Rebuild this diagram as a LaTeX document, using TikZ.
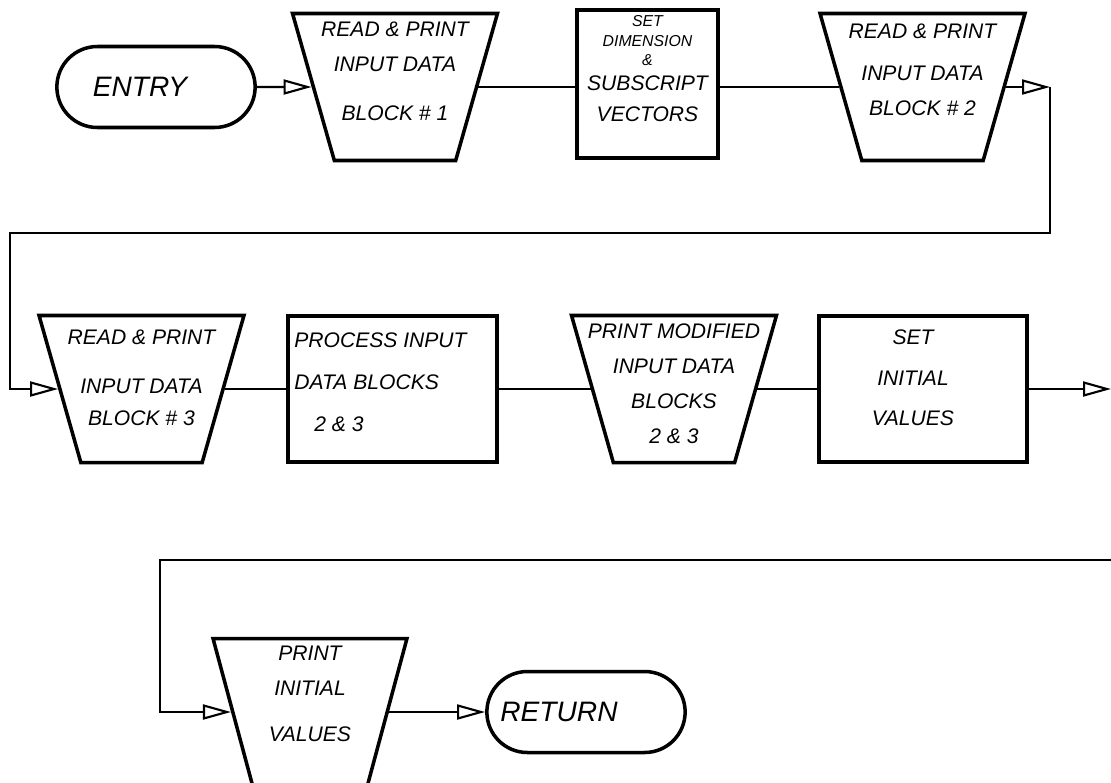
\documentclass[tikz,border=0pt]{standalone}
\usepackage{fontspec}
\newfontfamily\scrawl{Liberation Sans}
\usetikzlibrary{shapes.geometric,shapes.misc,arrows.meta}

\begin{document}
\begin{tikzpicture}[
    flow/.style={line width=1.2pt},
    arr/.style={flow, -{Triangle[open, length=0.56cm, width=0.3cm]}},
    term/.style={rounded rectangle, draw, line width=2pt, minimum width=4.2cm, minimum height=1.62cm,
        font=\scrawl\itshape\fontsize{16}{20}\selectfont},
    io/.style={trapezium, draw, line width=2pt, shape border rotate=180, trapezium angle=71,
        trapezium stretches=true, minimum width=4.1cm, minimum height=2.94cm},
    proc/.style={rectangle, draw, line width=2pt, minimum width=4.16cm, minimum height=2.92cm},
    hand/.style={font=\scrawl\itshape\fontsize{12}{20}\selectfont, align=center}
]
\useasboundingbox (0,0) rectangle (22.22,-15.64);

% first row
\node[term] (entry) at (3.12,-1.74) {ENTRY\rule{0.64cm}{0pt}};
\node[io] (rp1) at (7.9,-1.74) {};
\node[hand] (rp1-t) at ([yshift=0.32cm]rp1) {READ \& PRINT\\INPUT DATA\\[8pt]BLOCK \# 1};
\node[proc, minimum width=2.82cm, minimum height=2.96cm] (dim) at (12.95,-1.68) {};
\node[hand] (dim-t) at ([yshift=0.3cm]dim)
    {\small SET\\[-9pt]\small DIMENSION\\[-9pt]\small \&\\[-6pt]SUBSCRIPT\\[-2pt]VECTORS};
\node[io] (rp2) at (18.45,-1.74) {};
\node[hand] (rp2-t) at ([yshift=0.34cm]rp2) {READ \& PRINT\\[4pt]INPUT DATA\\BLOCK \# 2};

% second row
\node[io] (rp3) at (2.83,-7.78) {};
\node[hand] (rp3-t) at ([yshift=0.23cm]rp3) {READ \& PRINT\\[8pt]INPUT DATA\\[-2pt]BLOCK \# 3};
\node[proc, minimum width=4.18cm] (pr) at (7.85,-7.78) {};
\node[hand, align=left] (pr-t) at ([xshift=-0.24cm,yshift=0.14cm]pr)
    {PROCESS INPUT\\[4pt]DATA BLOCKS\\[4pt]\hspace{0.4cm}2 \& 3};
\node[io] (pm) at (13.48,-7.78) {};
\node[hand] (pm-t) at ([yshift=0.11cm]pm) {PRINT MODIFIED\\INPUT DATA\\BLOCKS\\2 \& 3};
\node[proc] (init) at (18.46,-7.78) {};
\node[hand] (init-t) at ([xshift=-0.2cm,yshift=0.22cm]init) {SET\\[3pt]INITIAL\\[3pt]VALUES};

% third row
\node[io, minimum width=3.88cm] (pi) at (6.2,-14.24) {};
\node[hand] (pi-t) at ([yshift=0.36cm]pi) {PRINT\\INITIAL\\[6pt]VALUES};
\node[term] (ret) at (11.72,-14.24) {RETURN\rule{1.08cm}{0pt}};

% corners and free ends
\coordinate (c1) at (21.0,-1.74);
\coordinate (c2) at (0.2,-4.66);
\coordinate (c3) at (22.22,-7.78);
\coordinate (c4) at (22.22,-11.2);
\coordinate (c5) at (3.2,-11.2);

\draw[arr] (entry) -- (rp1);
\draw[flow] (rp1) -- (rp1 -| dim.west);
\draw[flow] (rp2 -| dim.east) -- (rp2);
\draw[arr] (rp2) -- (c1);
\draw[arr] (c1) |- (c2) |- (rp3);
\draw[flow] (rp3) -- (pr);
\draw[flow] (pr) -- (pm);
\draw[flow] (pm) -- (init);
\draw[arr] (init) -- (c3);
\draw[arr] (c4) -- (c5) |- (pi);
\draw[arr] (pi) -- (ret);
\end{tikzpicture}
\end{document}
